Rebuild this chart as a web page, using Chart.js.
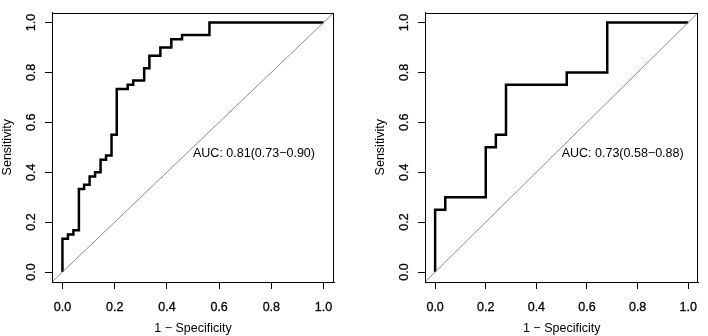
<!DOCTYPE html>
<html lang="en">
<head>
<meta charset="UTF-8">
<title>ROC curves</title>
<script src="https://cdn.jsdelivr.net/npm/chart.js"></script>
<style>
    body { margin: 0; background: #fff; }
    .panel { position: absolute; top: 0; width: 354px; height: 336px; }
    #p1 { left: 0; }
    #p2 { left: 354px; }
</style>
</head>
<body>
<div class="panel" id="p1"><canvas id="roc1"></canvas></div>
<div class="panel" id="p2"><canvas id="roc2"></canvas></div>
<script>
// ROC points (1 - specificity, sensitivity), stepped
const roc1Fpr = [0, 0, 0.021, 0.042, 0.063, 0.083, 0.104, 0.125, 0.146, 0.167, 0.188, 0.208, 0.25, 0.271, 0.313, 0.333, 0.375, 0.417, 0.458, 0.563, 1.0];
const roc1Tpr = [0, 0.133, 0.15, 0.167, 0.333, 0.35, 0.383, 0.40, 0.45, 0.467, 0.55, 0.733, 0.75, 0.767, 0.817, 0.867, 0.90, 0.933, 0.95, 1.0, 1.0];
const roc2Fpr = [0, 0, 0.04, 0.20, 0.24, 0.28, 0.52, 0.68, 1.0];
const roc2Tpr = [0, 0.25, 0.30, 0.50, 0.55, 0.75, 0.80, 1.0, 1.0];
const diagLine = [-0.04, 1.04];
const tickVals = [0, 0.2, 0.4, 0.6, 0.8, 1.0];
const auc1Label = 'AUC: 0.81(0.73\u22120.90)';
const auc2Label = 'AUC: 0.73(0.58\u22120.88)';

const FONT = '"Liberation Sans", Arial, Helvetica, sans-serif';
const FS = 12.5;
Chart.defaults.font.family = FONT;
Chart.defaults.font.size = FS;
Chart.defaults.color = '#000';

// box around plot region, like R's box()
const boxPlugin = {
    id: 'box',
    afterDraw(chart) {
        const a = chart.chartArea, ctx = chart.ctx;
        ctx.save();
        ctx.strokeStyle = '#000';
        ctx.lineWidth = 1;
        ctx.strokeRect(Math.round(a.left) + 0.5, Math.round(a.top) + 0.5,
            Math.round(a.right - a.left) - 1, Math.round(a.bottom - a.top) - 1);
        ctx.restore();
    }
};

// AUC text at (0.5, 0.5), left/top aligned
const aucPlugin = {
    id: 'auc',
    afterDatasetsDraw(chart, args, opts) {
        const ctx = chart.ctx;
        const x = chart.scales.x.getPixelForValue(0.5);
        const y = chart.scales.y.getPixelForValue(0.5);
        ctx.save();
        ctx.font = FS + 'px ' + FONT;
        ctx.fillStyle = '#000';
        ctx.textAlign = 'left';
        ctx.textBaseline = 'alphabetic';
        ctx.fillText(opts.text, x, y + FS * 0.76);
        ctx.restore();
    }
};

function makeRoc(canvasId, fpr, tpr, label, padLeft, padRight) {
    const pts = fpr.map((v, i) => ({ x: v, y: tpr[i] }));
    const diag = diagLine.map(v => ({ x: v, y: v }));
    return new Chart(document.getElementById(canvasId), {
        type: 'scatter',
        data: {
            datasets: [
                {
                    data: diag,
                    showLine: true,
                    borderColor: '#8c8c8c',
                    borderWidth: 1,
                    pointRadius: 0
                },
                {
                    data: pts,
                    showLine: true,
                    stepped: 'before',
                    borderColor: '#000',
                    borderWidth: 2.5,
                    pointRadius: 0
                }
            ]
        },
        options: {
            responsive: true,
            maintainAspectRatio: false,
            animation: false,
            clip: true,
            layout: { padding: { left: padLeft, right: padRight, top: 2, bottom: 0 } },
            plugins: {
                legend: { display: false },
                tooltip: { enabled: false },
                auc: { text: label }
            },
            scales: {
                x: {
                    type: 'linear',
                    min: -0.04,
                    max: 1.04,
                    afterBuildTicks: s => { s.ticks = tickVals.map(v => ({ value: v })); },
                    afterFit: s => { s.height = 54; },
                    grid: { drawOnChartArea: false, tickLength: 7, color: '#000' },
                    border: { color: '#000' },
                    ticks: {
                        maxRotation: 0,
                        padding: 11,
                        textStrokeColor: '#000',
                        textStrokeWidth: 0.3,
                        callback: v => v.toFixed(1)
                    },
                    title: { display: true, text: '1 \u2212 Specificity', padding: 0 }
                },
                y: {
                    type: 'linear',
                    min: -0.04,
                    max: 1.04,
                    afterBuildTicks: s => { s.ticks = tickVals.map(v => ({ value: v })); },
                    afterFit: s => { s.width = 52; },
                    grid: { drawOnChartArea: false, tickLength: 7, color: '#000' },
                    border: { color: '#000' },
                    ticks: {
                        minRotation: 90,
                        maxRotation: 90,
                        crossAlign: 'center',
                        padding: 5,
                        textStrokeColor: '#000',
                        textStrokeWidth: 0.3,
                        callback: v => v.toFixed(1)
                    },
                    title: { display: true, text: 'Sensitivity', padding: 0 }
                }
            }
        },
        plugins: [boxPlugin, aucPlugin]
    });
}

makeRoc('roc1', roc1Fpr, roc1Tpr, auc1Label, 0, 20);
makeRoc('roc2', roc2Fpr, roc2Tpr, auc2Label, 19, 2);
</script>
</body>
</html>
